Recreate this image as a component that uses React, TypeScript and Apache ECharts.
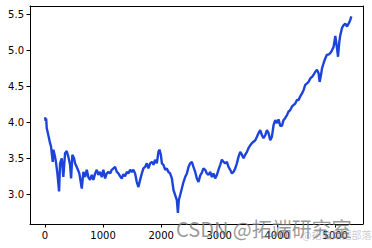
import React, { useEffect, useRef } from "react";
import * as echarts from "echarts";

const xValues: number[] = [
  0, 10, 20, 29, 57, 87, 104, 116, 133, 144, 173, 191, 213, 242, 259, 288, 315, 345, 374, 402,
  431, 449, 471, 500, 517, 546, 591, 633, 661, 690, 719, 746, 776, 805, 833, 863, 892, 919, 948, 978,
  1005, 1035, 1064, 1092, 1121, 1150, 1178, 1207, 1237, 1264, 1294, 1322, 1350, 1379, 1409, 1437, 1466, 1495, 1522, 1552,
  1581, 1609, 1638, 1668, 1695, 1724, 1754, 1781, 1811, 1841, 1869, 1896, 1926, 1954, 1971, 1995, 2013, 2040, 2070, 2098,
  2126, 2155, 2185, 2213, 2242, 2271, 2289, 2305, 2328, 2357, 2385, 2414, 2444, 2472, 2500, 2529, 2557, 2587, 2616, 2644,
  2673, 2702, 2729, 2759, 2788, 2816, 2846, 2875, 2902, 2931, 2961, 2988, 3018, 3047, 3075, 3104, 3133, 3161, 3190, 3220,
  3247, 3277, 3305, 3333, 3363, 3392, 3420, 3449, 3479, 3505, 3535, 3564, 3592, 3622, 3651, 3679, 3707, 3737, 3764, 3794,
  3823, 3851, 3880, 3909, 3937, 3966, 3996, 4023, 4053, 4081, 4109, 4139, 4168, 4196, 4225, 4255, 4281, 4311, 4340, 4368,
  4397, 4427, 4455, 4483, 4513, 4540, 4570, 4599, 4627, 4656, 4685, 4713, 4731, 4755, 4772, 4799, 4829, 4858, 4885, 4914,
  4944, 4972, 5001, 5030, 5048, 5070, 5087, 5116, 5144, 5173, 5203, 5230, 5259, 5276,
];

const yValues: number[] = [
  4.07, 4.02, 4.05, 3.92, 3.82, 3.71, 3.66, 3.57, 3.45, 3.62, 3.52, 3.43, 3.29, 3.04, 3.43, 3.5, 3.24, 3.57, 3.6, 3.52,
  3.41, 3.22, 3.55, 3.5, 3.43, 3.38, 3.29, 3.08, 3.31, 3.24, 3.34, 3.24, 3.2, 3.27, 3.2, 3.29, 3.34, 3.27, 3.31, 3.24,
  3.34, 3.22, 3.29, 3.31, 3.29, 3.34, 3.36, 3.38, 3.31, 3.29, 3.25, 3.22, 3.28, 3.25, 3.31, 3.29, 3.34, 3.31, 3.34, 3.29,
  3.17, 3.1, 3.2, 3.29, 3.36, 3.38, 3.43, 3.36, 3.43, 3.45, 3.41, 3.48, 3.43, 3.59, 3.62, 3.55, 3.43, 3.41, 3.34, 3.36,
  3.31, 3.29, 3.22, 3.06, 2.99, 2.92, 2.74, 2.92, 2.99, 3.08, 3.17, 3.24, 3.29, 3.38, 3.43, 3.45, 3.38, 3.31, 3.22, 3.17,
  3.26, 3.3, 3.36, 3.34, 3.29, 3.27, 3.31, 3.24, 3.29, 3.22, 3.27, 3.34, 3.41, 3.48, 3.45, 3.43, 3.45, 3.38, 3.34, 3.29,
  3.31, 3.36, 3.43, 3.52, 3.59, 3.55, 3.5, 3.55, 3.59, 3.64, 3.68, 3.71, 3.73, 3.75, 3.8, 3.85, 3.89, 3.82, 3.78, 3.82,
  3.89, 3.85, 3.75, 3.8, 3.96, 4.03, 3.99, 4.04, 3.95, 3.95, 4.03, 4.06, 4.1, 4.15, 4.17, 4.22, 4.24, 4.26, 4.31, 4.31,
  4.36, 4.4, 4.45, 4.52, 4.54, 4.56, 4.61, 4.63, 4.66, 4.7, 4.73, 4.68, 4.56, 4.66, 4.75, 4.82, 4.89, 4.94, 4.94, 4.96,
  5.0, 5.05, 5.2, 5.03, 4.91, 5.12, 5.21, 5.31, 5.35, 5.37, 5.33, 5.37, 5.42, 5.47,
];

const xTicks: number[] = [0, 1000, 2000, 3000, 4000, 5000];
const yTicks: number[] = [3.0, 3.5, 4.0, 4.5, 5.0, 5.5];

const X_MIN = -259;
const X_MAX = 5478;
const Y_MIN = 2.5875;
const Y_MAX = 5.615;

export default function App() {
  const ref = useRef<HTMLDivElement>(null);
  useEffect(() => {
    if (!ref.current) return;
    const chart = echarts.init(ref.current, null, { renderer: "svg" });
    const data = xValues.map((x, i) => [x, yValues[i]]);
    const labelStyle = {
      color: "#000",
      fontSize: 10,
      fontFamily: "DejaVu Sans",
    };
    const frameOnly = {
      axisLine: { show: true, onZero: false, lineStyle: { color: "#000", width: 1 } },
      axisTick: { show: false },
      axisLabel: { show: false },
      splitLine: { show: false },
    };
    chart.setOption({
      animation: false,
      grid: { left: 30, right: 9, top: 6, bottom: 24 },
      xAxis: [
        {
          type: "value",
          position: "bottom",
          min: X_MIN,
          max: X_MAX,
          axisLine: { show: true, onZero: false, lineStyle: { color: "#000", width: 1 } },
          splitLine: { show: false },
          axisTick: { show: true, length: 3.5, customValues: xTicks, lineStyle: { color: "#000" } },
          axisLabel: {
            ...labelStyle,
            customValues: xTicks,
            margin: 6,
            formatter: (v: number) => String(v),
          },
        },
        { type: "value", position: "top", min: X_MIN, max: X_MAX, ...frameOnly },
      ],
      yAxis: [
        {
          type: "value",
          position: "left",
          min: Y_MIN,
          max: Y_MAX,
          axisLine: { show: true, onZero: false, lineStyle: { color: "#000", width: 1 } },
          splitLine: { show: false },
          axisTick: { show: true, length: 3.5, customValues: yTicks, lineStyle: { color: "#000" } },
          axisLabel: {
            ...labelStyle,
            customValues: yTicks,
            margin: 6,
            formatter: (v: number) => v.toFixed(1),
          },
        },
        { type: "value", position: "right", min: Y_MIN, max: Y_MAX, ...frameOnly },
      ],
      series: [
        {
          type: "line",
          xAxisIndex: 0,
          yAxisIndex: 0,
          data,
          showSymbol: false,
          symbol: "none",
          lineStyle: { color: "#1c44dc", width: 2.4 },
        },
      ],
      graphic: [
        {
          type: "text",
          left: 176,
          top: 218,
          z: 100,
          style: {
            text: "CSDN @拓端研究室",
            fontSize: 20,
            fontFamily: "Noto Sans CJK SC",
            fill: "rgba(120,120,120,0.75)",
          },
        },
        {
          type: "text",
          left: 302,
          top: 229,
          z: 99,
          style: {
            text: "@拓端数据部落",
            fontSize: 10,
            fontFamily: "Noto Sans CJK SC",
            fill: "rgba(150,150,150,0.5)",
          },
        },
      ],
    });
    return () => chart.dispose();
  }, []);
  return (
    <div
      ref={ref}
      style={{ position: "fixed", left: 0, top: 0, width: 372, height: 248, background: "#fff" }}
    />
  );
}
